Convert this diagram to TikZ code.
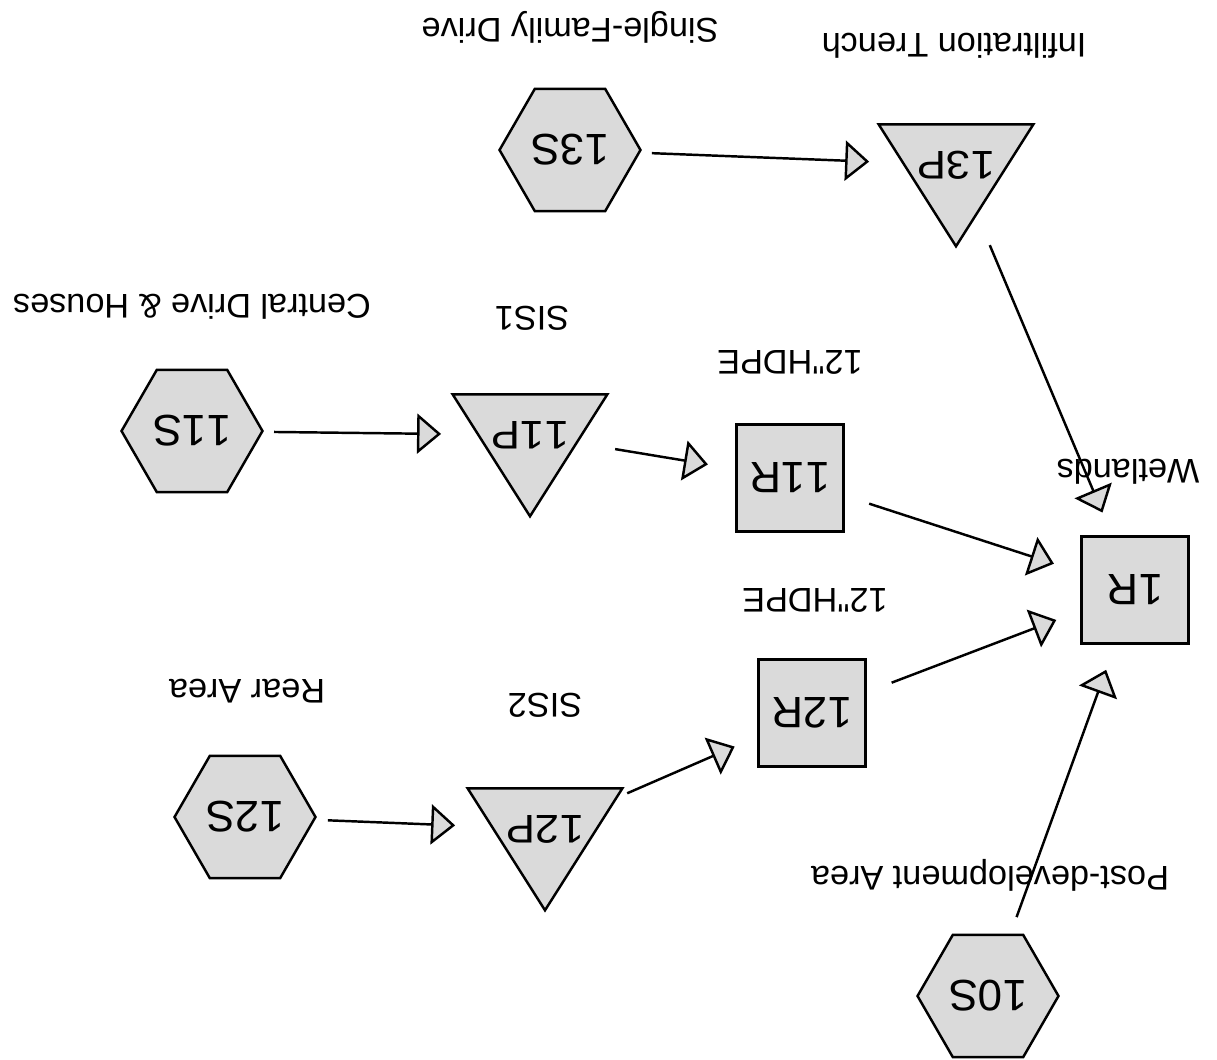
\documentclass[tikz,border=0pt]{standalone}
\usepackage{fontspec}
\newfontfamily\cadfont[Kerning=Off]{Liberation Sans}
\usetikzlibrary{shapes.geometric,arrows.meta}
\definecolor{boxgray}{RGB}{218,218,218}
\begin{document}
\begin{tikzpicture}[x=0.02cm,y=-0.02cm,
    subcat/.style={draw,line width=1.4pt,fill=boxgray,regular polygon,regular polygon sides=6,
      minimum size=2.82cm,inner sep=0pt,outer sep=0pt,rotate=180,font=\cadfont\fontsize{25}{30}\selectfont},
    pond/.style={draw,line width=1.4pt,fill=boxgray,regular polygon,regular polygon sides=3,
      minimum size=3.3cm,yscale=0.91,inner sep=-0.15cm,outer sep=0pt,rotate=180,font=\cadfont\fontsize{25}{30}\selectfont},
    reach/.style={draw,line width=1.4pt,fill=boxgray,rectangle,minimum size=2.14cm,
      inner sep=0pt,outer sep=0pt,rotate=180,font=\cadfont\fontsize{25}{30}\selectfont},
    caption/.style={rotate=180,inner sep=0pt,font=\cadfont\fontsize{19.5}{23}\selectfont},
    flow/.style={line width=1.4pt,-{Triangle[length=0.48cm,width=0.8cm,fill=boxgray,line width=1.4pt]}}]
  \useasboundingbox (0,0) rectangle (1217,1060);
  % subcatchments
  \node[subcat] (n10S) at (988,996) {10S};
  \node[subcat] (n11S) at (192,431) {11S};
  \node[subcat] (n12S) at (245,817) {12S};
  \node[subcat] (n13S) at (570,150) {13S};
  % ponds
  \node[pond] (n11P) at (530,435) {11P};
  \node[pond] (n12P) at (545,829) {12P};
  \node[pond] (n13P) at (956,165) {13P};
  % reaches
  \node[reach] (n1R) at (1135,590) {1R};
  \node[reach] (n11R) at (790,478) {11R};
  \node[reach] (n12R) at (812,713) {12R};
  % captions
  \node[caption] (lbl13S) at (570,27) {Single-Family Drive};
  \node[caption] (lbl13P) at (954,46) {Infiltration Trench};
  \node[caption] (lbl11S) at (192,307) {Central Drive \& Houses};
  \node[caption] (lbl11P) at (532,318) {SIS1};
  \node[caption] (lbl11R) at (790,362) {12"HDPE};
  \node[caption] (lbl1R) at (1128,472) {Wetlands};
  \node[caption] (lbl12R) at (815,600) {12"HDPE};
  \node[caption] (lbl12P) at (545,705) {SIS2};
  \node[caption] (lbl12S) at (247,691) {Rear Area};
  \node[caption] (lbl10S) at (990,875) {Post-development Area};
  % routing
  \draw[flow,shorten <=0.28cm,shorten >=0.74cm] (n12S) -- (n12P);
  \draw[flow,shorten <=0.24cm,shorten >=0.74cm] (n11S) -- (n11P);
  \draw[flow,shorten <=0.26cm,shorten >=0.68cm] (n13S) -- (n13P);
  \draw[flow,shorten <=0.78cm,shorten >=0.58cm] (n11P) -- (n11R);
  \draw[flow,shorten <=0.24cm,shorten >=0.52cm] (n12P) -- (n12R);
  \draw[flow,shorten <=0.56cm,shorten >=0.54cm] (n12R) -- (n1R);
  \draw[flow,shorten <=0.54cm,shorten >=0.58cm] (n11R) -- (n1R);
  \draw[flow,shorten <=0.68cm,shorten >=0.52cm] (n13P) -- (n1R);
  \draw[flow,shorten <=0.38cm,shorten >=0.56cm] (n10S) -- (n1R);
\end{tikzpicture}
\end{document}
